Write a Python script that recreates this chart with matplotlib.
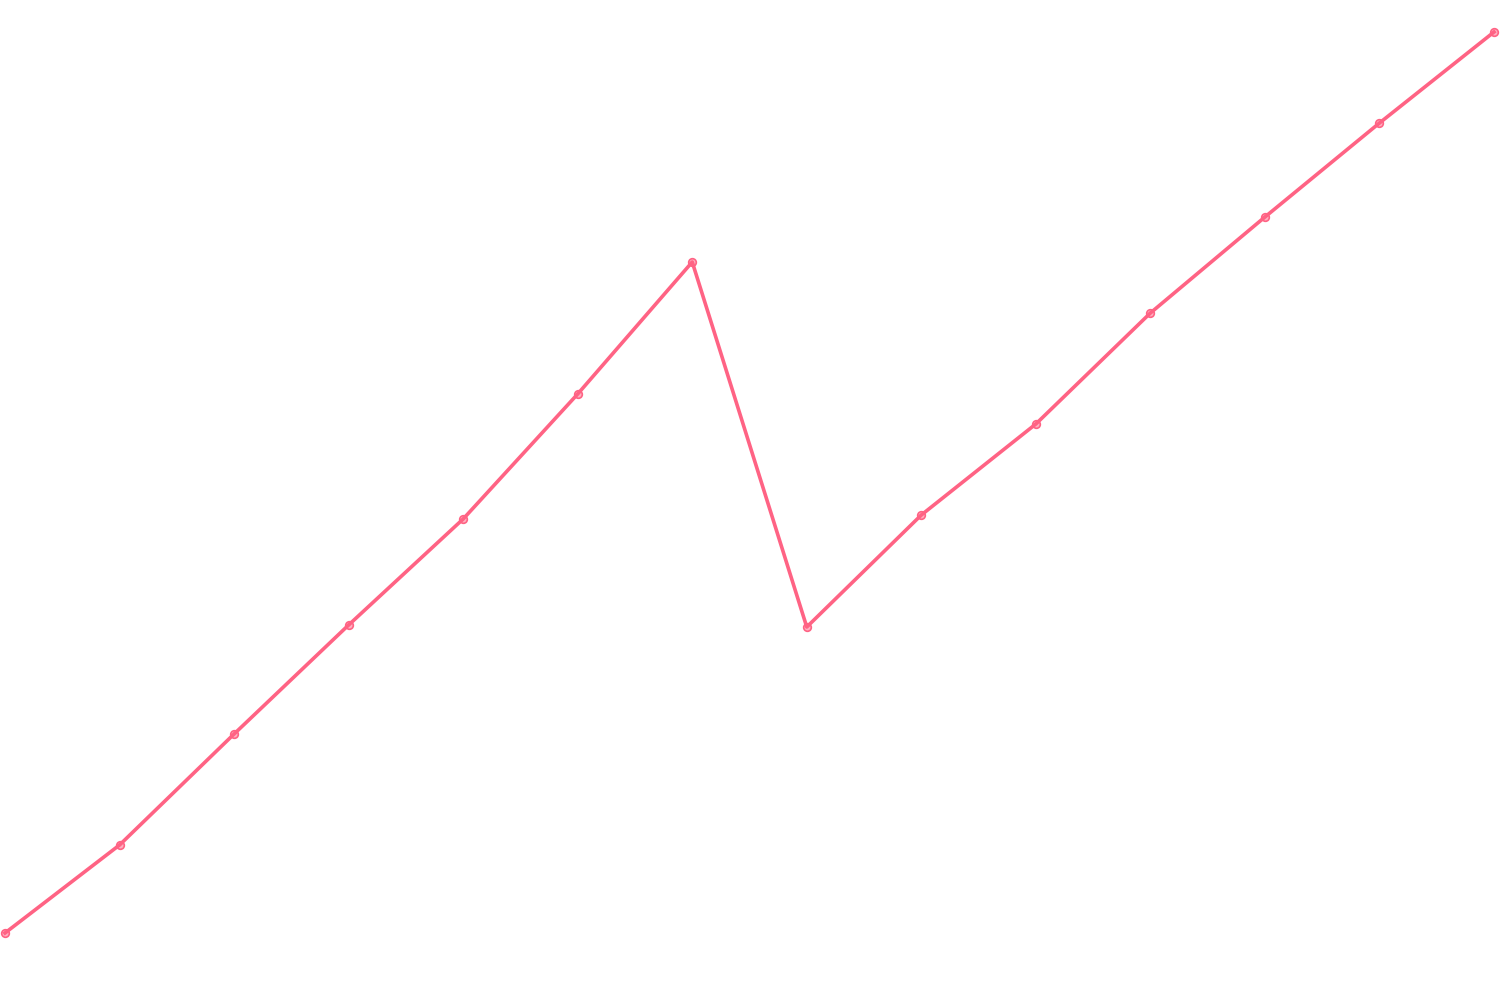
import matplotlib
matplotlib.use("Agg")
import matplotlib.pyplot as plt

labels = list(range(14))
values = [67, 155, 266, 375, 481, 606, 738, 373, 485, 576, 687, 783, 877, 968]

fig = plt.figure(figsize=(15, 10), dpi=100)
ax = fig.add_axes([0, 0, 1, 1])
ax.plot(labels, values, color="#ff6384", linewidth=2.6,
        marker="o", markersize=5.5, markerfacecolor=(1, 99/255, 132/255, 0.5),
        markeredgecolor="#ff6384", markeredgewidth=1.2, solid_joinstyle="round")
step = (1494 - 5) / 13
ax.set_xlim(-5 / step, 13 + 6 / step)
ax.set_ylim(0, 1000)
ax.axis("off")
fig.savefig("out.png", dpi=100, facecolor="white")
